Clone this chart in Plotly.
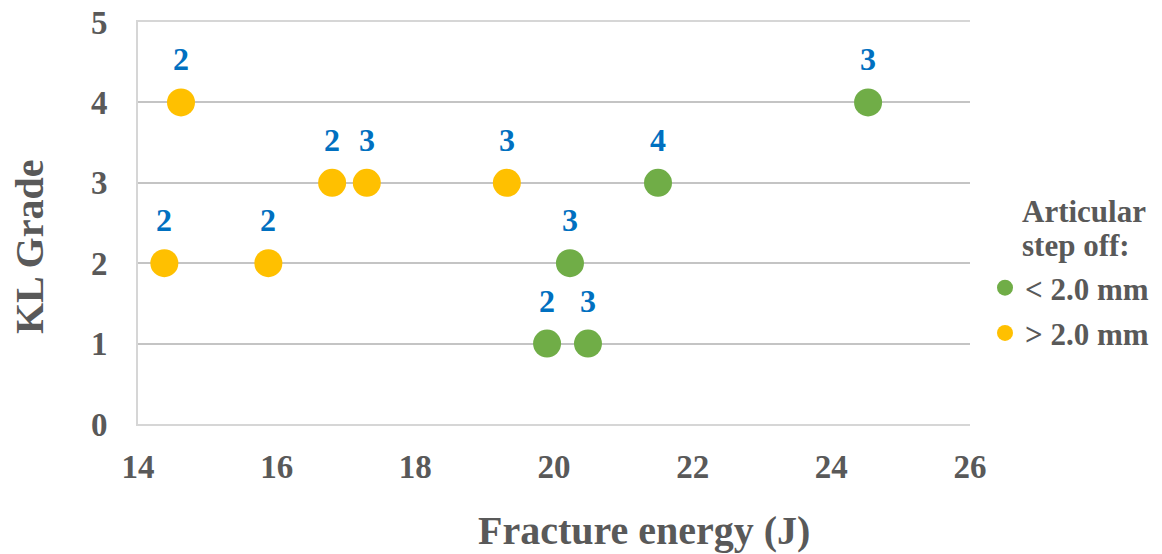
import plotly.graph_objects as go

# fracture energy (J), KL grade and the blue label above each point
green_energy = [19.9, 20.23, 20.49, 21.5, 24.53]
green_kl = [1, 2, 1, 3, 4]
green_text = ["2", "3", "3", "4", "3"]

orange_energy = [14.38, 14.62, 15.88, 16.8, 17.3, 19.32]
orange_kl = [2, 4, 2, 3, 3, 3]
orange_text = ["2", "2", "2", "2", "3", "3"]

x_ticks = [14, 16, 18, 20, 22, 24, 26]
y_ticks = [0, 1, 2, 3, 4, 5]

serif = "Liberation Serif"
grey = "#595959"

# page body adds an 8px offset, so margins are reduced by that
L, T = 130, 14
W, H = 832, 402

fig = go.Figure()
fig.add_trace(go.Scatter(
    x=green_energy, y=green_kl, mode="markers", name="&lt; 2.0 mm",
    legendgroup="a",
    marker=dict(color="#70AD47", size=28),
))
fig.add_trace(go.Scatter(
    x=orange_energy, y=orange_kl, mode="markers", name="&gt; 2.0 mm",
    legendgroup="b",
    marker=dict(color="#FFC000", size=28),
))

# blue labels above the points
for xs, ys, ts in [(green_energy, green_kl, green_text), (orange_energy, orange_kl, orange_text)]:
    for x, y, t in zip(xs, ys, ts):
        fig.add_annotation(x=x, y=y, text=t, showarrow=False, yshift=43,
                           font=dict(family=serif, size=32, color="#0070C0", weight="bold"))

def px(x, y):
    # reference pixel -> paper coords
    return (x - 138) / W, (424 - y) / H

# axis titles and legend heading
ax, ay = px(644, 530)
fig.add_annotation(xref="paper", yref="paper", x=ax, y=ay, xanchor="center", yanchor="middle",
                   text="Fracture energy (J)", showarrow=False,
                   font=dict(family=serif, size=40, color=grey, weight="bold"))
ax, ay = px(30, 247)
fig.add_annotation(xref="paper", yref="paper", x=ax, y=ay, xanchor="center", yanchor="middle",
                   text="KL Grade", showarrow=False, textangle=-90,
                   font=dict(family=serif, size=40, color=grey, weight="bold"))
for line, yy in [("Articular", 212), ("step off:", 245)]:
    ax, ay = px(1020, yy)
    fig.add_annotation(xref="paper", yref="paper", x=ax, y=ay,
                       xanchor="left", yanchor="middle", text=line, showarrow=False,
                       font=dict(family=serif, size=31, color=grey, weight="bold"))

lx, ly = px(985, 261)
fig.update_layout(
    width=1162, height=554,
    margin=dict(l=L, r=1162 - L - W, t=T, b=554 - T - H, autoexpand=False),
    plot_bgcolor="white", paper_bgcolor="white",
    showlegend=True,
    legend=dict(x=lx, y=ly, xanchor="left", yanchor="top",
                traceorder="grouped", tracegroupgap=2,
                font=dict(family=serif, size=31, color=grey, weight="bold")),
    # mirrored x line gives the top border at KL grade 5
    xaxis=dict(range=[14, 26], tickvals=x_ticks, showgrid=False, zeroline=False,
               showline=True, mirror=True, linecolor="#D6D6D6", linewidth=2,
               ticklabelstandoff=12,
               tickfont=dict(family=serif, size=33, color=grey, weight="bold")),
    yaxis=dict(range=[0, 5], tickvals=y_ticks, showgrid=True, gridcolor="#C4C4C4",
               gridwidth=2, zeroline=False, showline=True, linecolor="#D6D6D6", linewidth=2,
               ticklabelstandoff=22, ticklabeloverflow="allow",
               tickfont=dict(family=serif, size=33, color=grey, weight="bold")),
)

fig.write_html("out.html")
